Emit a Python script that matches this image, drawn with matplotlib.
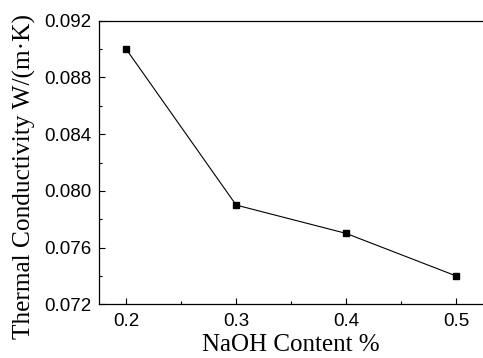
import numpy as np
import matplotlib.pyplot as plt
from matplotlib.ticker import MultipleLocator

# data
naoh = [0.2, 0.3, 0.4, 0.5]
conductivity = [0.090, 0.079, 0.077, 0.074]

fig = plt.figure(figsize=(4.83, 3.58), dpi=100)
ax = fig.add_axes([0.2043, 0.15, 0.797, 0.792])

ax.plot(naoh, conductivity, color='black', linewidth=0.8,
        marker='s', markersize=4.5, markerfacecolor='black', markeredgecolor='black')

ax.set_xlim(0.175, 0.525)
ax.set_ylim(0.072, 0.092)
ax.xaxis.set_major_locator(MultipleLocator(0.1))
ax.xaxis.set_minor_locator(MultipleLocator(0.05))
ax.yaxis.set_major_locator(MultipleLocator(0.004))
ax.yaxis.set_minor_locator(MultipleLocator(0.002))
ax.yaxis.set_major_formatter(plt.FormatStrFormatter('%.3f'))
ax.xaxis.set_major_formatter(plt.FormatStrFormatter('%.1f'))

ax.tick_params(which='both', direction='in', top=False, right=False,
               labelsize=13.5, width=0.8)
ax.tick_params(which='major', length=4, pad=5)
ax.tick_params(axis='x', which='major', pad=6)
ax.tick_params(which='minor', length=2.5)
for lab in ax.get_xticklabels() + ax.get_yticklabels():
    lab.set_fontfamily('Liberation Sans')

for s in ax.spines.values():
    s.set_linewidth(0.9)
ax.spines['right'].set_visible(False)

ax.set_xlabel('NaOH Content %', fontfamily='Liberation Serif', fontsize=18, labelpad=3.5)
ax.set_ylabel('Thermal Conductivity W/(m·K)', fontfamily='Liberation Serif', fontsize=18.3)
ax.yaxis.set_label_coords(-0.163, 0.452)

fig.savefig('out.png', dpi=100)
